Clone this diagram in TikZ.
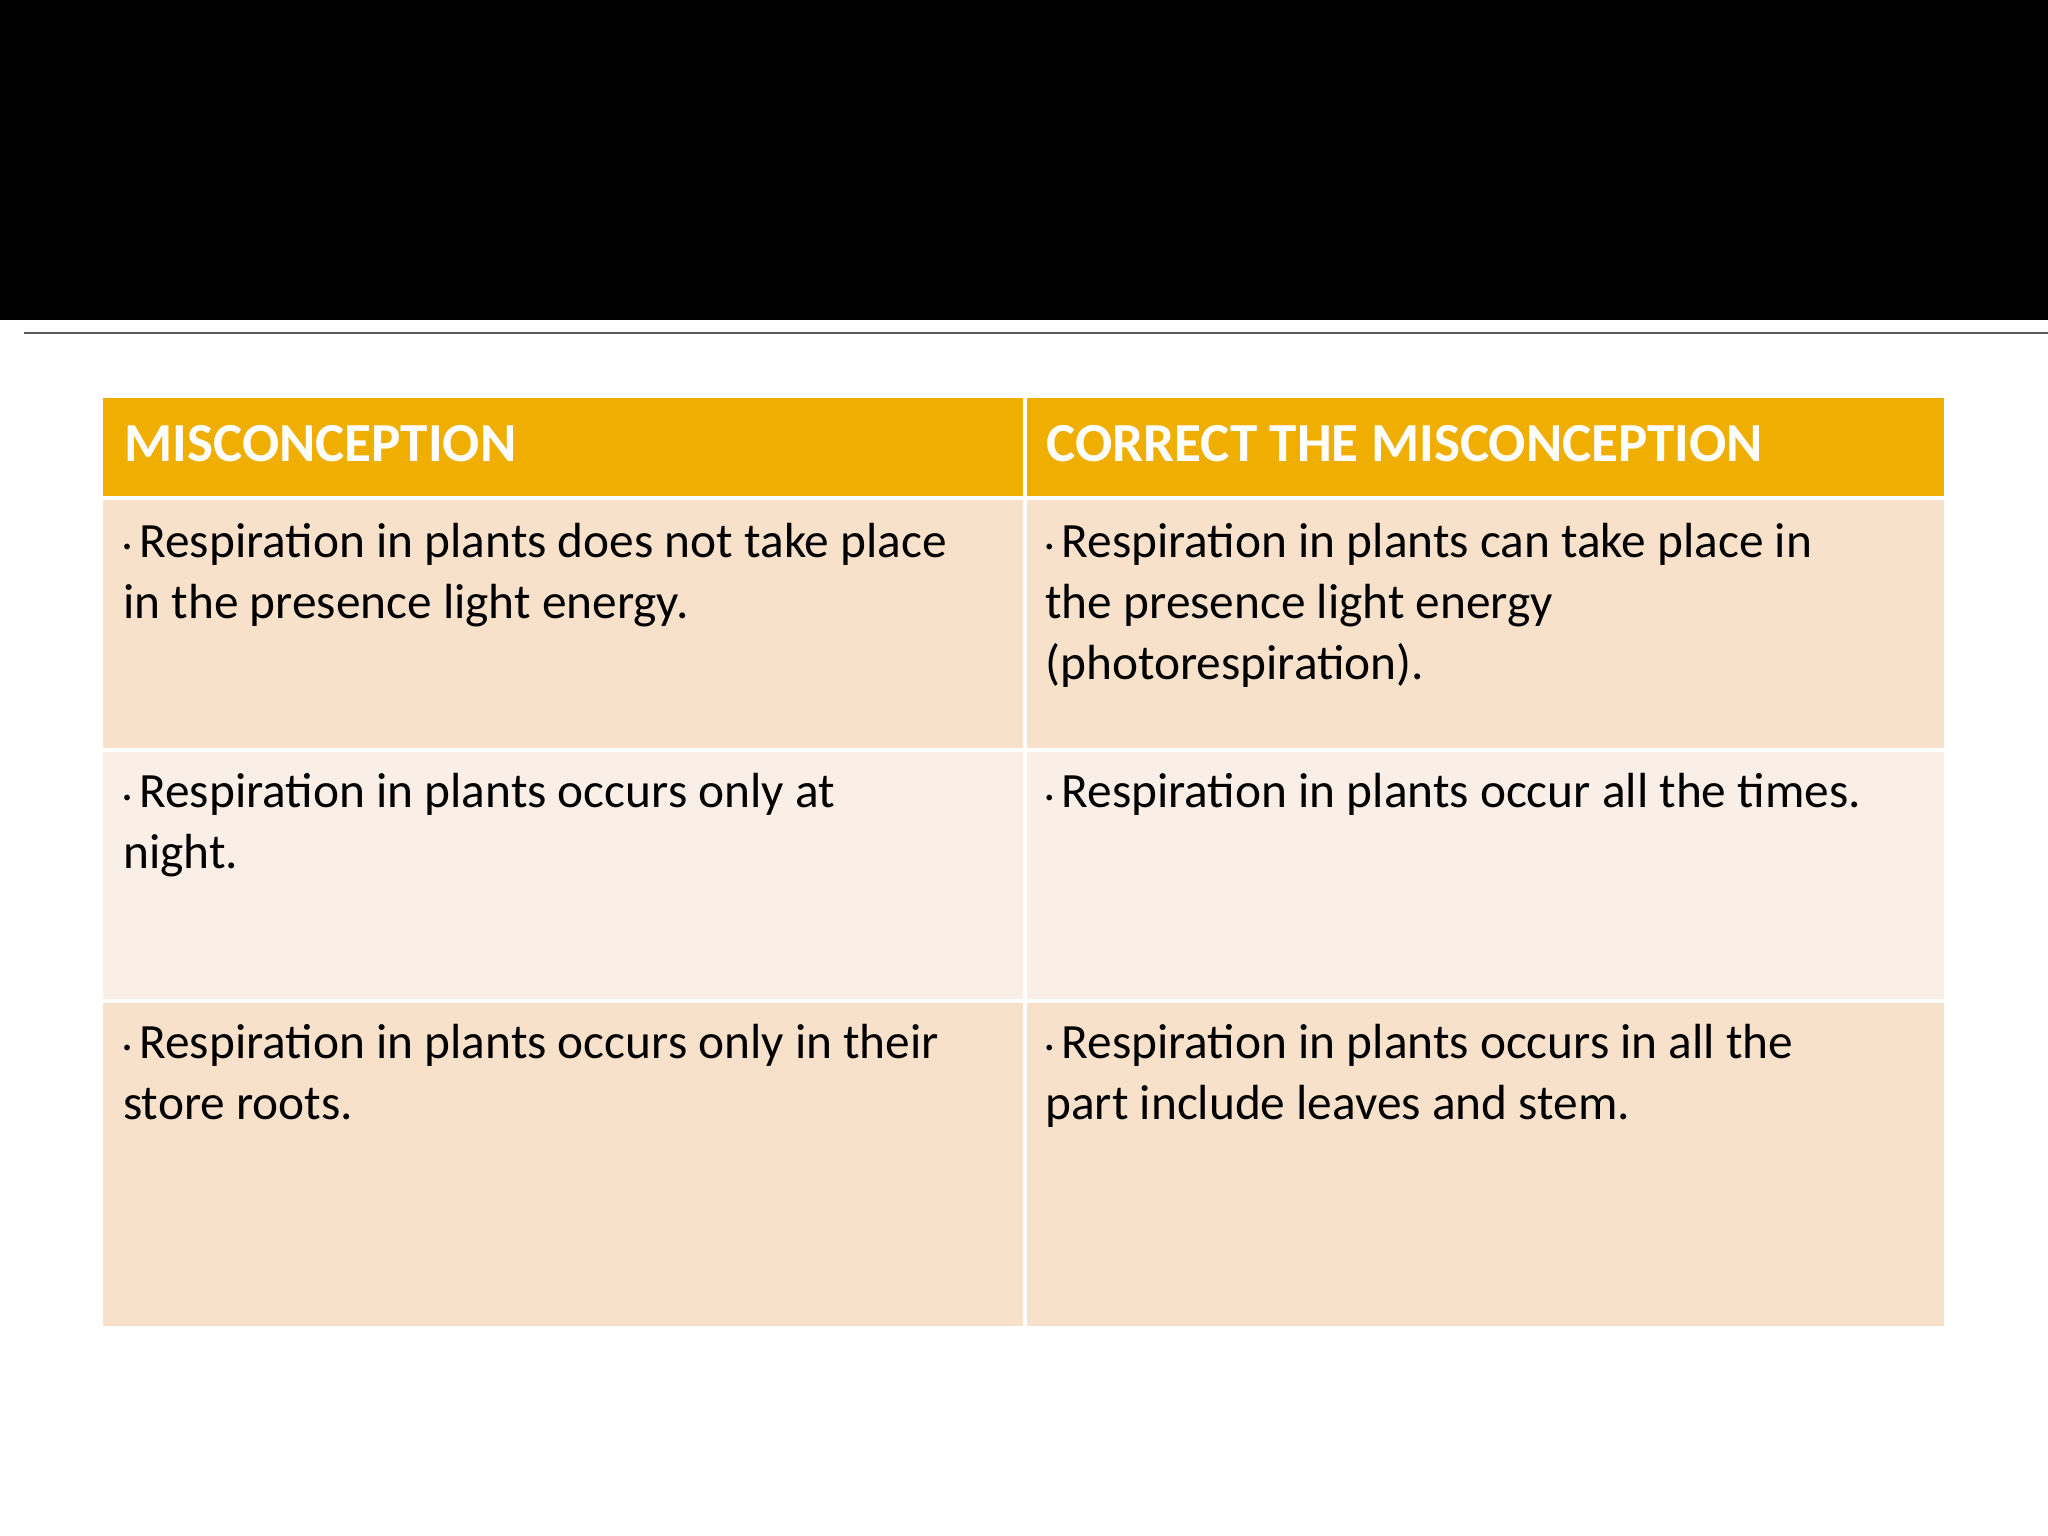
\documentclass[tikz,border=0pt]{standalone}
\usepackage{fontspec}
\setmainfont{Carlito}
\definecolor{hdr}{HTML}{F0AE00}
\definecolor{rowa}{HTML}{F8E1CB}
\definecolor{rowb}{HTML}{FAEFE6}
\newcommand{\bul}{\raisebox{0.25ex}{\scriptsize\textbullet}\,}
\begin{document}
\begin{tikzpicture}[x=0.02cm,y=-0.02cm,
  cell/.style={anchor=north west,inner sep=0pt,align=left,font=\fontsize{21.5}{26.6}\selectfont},
  head/.style={anchor=west,inner sep=0pt,text=white,font=\fontsize{24}{26}\selectfont\bfseries}]
\useasboundingbox (0,0) rectangle (1568,1176);
\fill[white] (0,0) rectangle (1568,1176);
\fill[black] (0,0) rectangle (1568,245);
\draw[gray!70!black,line width=0.8pt] (18,255) -- (1568,255);
\fill[hdr] (79,305) rectangle (783,380);
\fill[hdr] (786,305) rectangle (1488,380);
\fill[rowa] (79,383) rectangle (783,573);
\fill[rowa] (786,383) rectangle (1488,573);
\fill[rowb] (79,576) rectangle (783,765);
\fill[rowb] (786,576) rectangle (1488,765);
\fill[rowa] (79,768) rectangle (783,1015);
\fill[rowa] (786,768) rectangle (1488,1015);
\node[head] (h1) at (95,340) {MISCONCEPTION};
\node[head] (h2) at (801,340) {CORRECT THE MISCONCEPTION};
\node[cell] (a1) at (94,400) {\bul Respiration in plants does not take place\\in the presence light energy.};
\node[cell] (b1) at (800,400) {\bul Respiration in plants can take place in\\the presence light energy\\(photorespiration).};
\node[cell] (a2) at (94,592) {\bul Respiration in plants occurs only at\\night.};
\node[cell] (b2) at (800,592) {\bul Respiration in plants occur all the times.};
\node[cell] (a3) at (94,784) {\bul Respiration in plants occurs only in their\\store roots.};
\node[cell] (b3) at (800,784) {\bul Respiration in plants occurs in all the\\part include leaves and stem.};
\end{tikzpicture}
\end{document}
